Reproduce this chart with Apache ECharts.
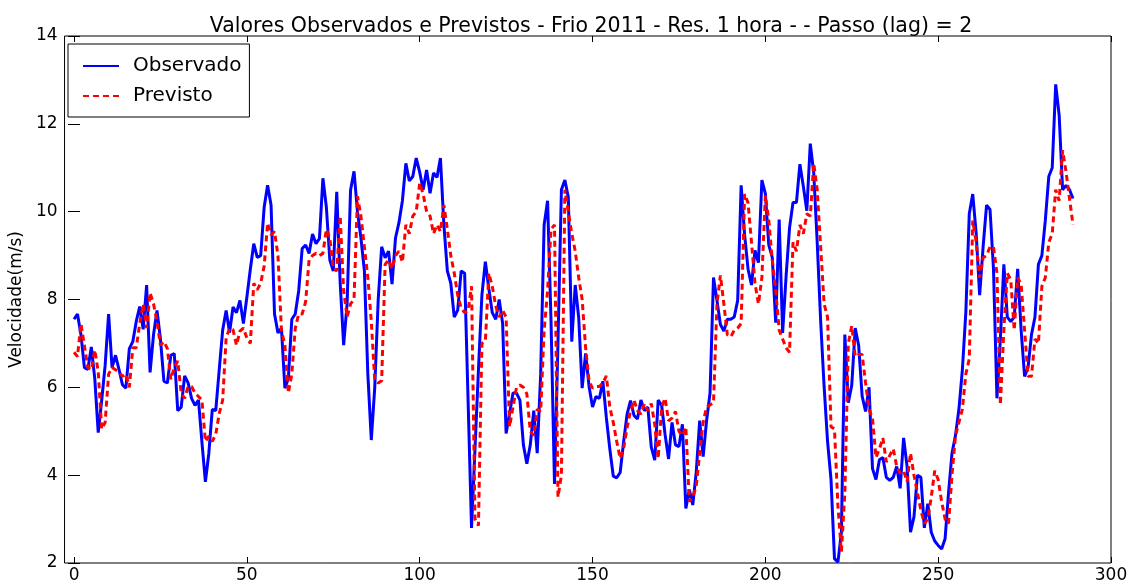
<!DOCTYPE html>
<html>
<head>
<meta charset="utf-8">
<script src="https://cdn.jsdelivr.net/npm/echarts@6/dist/echarts.min.js"></script>
<style>
html,body{margin:0;padding:0;background:#fff;}
#chart{width:1132px;height:584px;}
</style>
</head>
<body>
<div id="chart"></div>
<script>
const titleText = "Valores Observados e Previstos - Frio 2011 - Res. 1 hora - - Passo (lag) = 2";
const yAxisName = "Velocidade(m/s)";
const legendNames = ["Observado", "Previsto"];
const xTicks = [0, 50, 100, 150, 200, 250, 300];
const yTicks = [2, 4, 6, 8, 10, 12, 14];

const observado = [
7.55,7.67,7.2,6.45,6.41,6.92,6.2,4.97,5.7,6.5,
7.67,6.45,6.73,6.41,6.06,5.98,6.88,7.04,7.5,7.84,
7.32,8.33,6.34,7.2,7.75,7.1,6.14,6.1,6.73,6.77,
5.47,5.55,6.26,6.1,5.75,5.59,5.71,4.75,3.85,4.5,
5.5,5.47,6.4,7.3,7.75,7.25,7.83,7.7,7.98,7.45,
8.05,8.69,9.27,8.96,9.0,10.1,10.6,10.15,7.67,7.24,
7.35,5.98,6.2,7.55,7.67,8.2,9.16,9.24,9.05,9.49,
9.27,9.39,10.76,10.1,8.9,8.65,10.45,8.37,6.96,7.9,
10.49,10.92,10.0,9.4,8.65,6.3,4.8,6.0,8.0,9.2,
8.95,9.1,8.35,9.4,9.75,10.25,11.1,10.7,10.8,11.22,
10.9,10.5,10.95,10.42,10.88,10.78,11.22,9.7,8.65,8.37,
7.6,7.76,8.65,8.6,5.7,2.8,4.6,6.4,8.1,8.86,
8.25,7.7,7.55,8.0,7.45,4.95,5.4,5.87,5.87,5.71,
4.69,4.26,4.69,5.47,4.5,6.3,9.7,10.25,7.5,3.8,
7.0,10.5,10.72,10.33,7.04,8.33,7.59,5.98,6.77,6.02,
5.55,5.79,5.75,6.14,5.31,4.6,3.98,3.94,4.06,4.76,
5.39,5.7,5.36,5.28,5.71,5.47,5.55,4.64,4.34,5.71,
5.59,4.92,4.37,5.2,4.69,4.65,5.16,3.24,3.67,3.32,
4.06,5.24,4.42,5.24,5.87,8.5,7.98,7.43,7.28,7.55,
7.55,7.6,7.98,10.6,9.47,8.69,8.33,9.12,8.84,10.72,
10.41,9.24,8.96,7.47,9.82,7.24,8.53,9.63,10.21,10.21,
11.08,10.57,10.02,11.55,10.88,9.31,7.51,6.02,4.77,3.9,
2.1,2.02,2.7,7.2,5.65,6.05,7.35,6.95,5.8,5.45,
6.0,4.15,3.9,4.35,4.4,3.95,3.88,3.95,4.2,3.7,
4.85,4.2,2.7,3.05,4.0,3.95,2.8,3.35,2.7,2.5,
2.4,2.32,2.55,3.6,4.5,4.9,5.5,6.4,7.7,9.95,
10.4,9.5,8.1,9.2,10.15,10.05,8.7,5.75,7.1,8.8,
7.6,7.5,7.6,8.7,7.3,6.25,6.45,7.2,7.6,8.8,
9.0,9.8,10.8,11.0,12.9,12.2,10.5,10.6,10.5,10.3
];

const previsto = [
6.8,6.7,7.45,6.95,6.45,6.4,6.85,6.35,5.05,5.2,
6.3,6.45,6.4,6.35,6.25,6.3,6.0,6.9,6.9,7.45,
7.9,7.35,8.15,7.9,7.5,6.96,7.04,6.88,6.18,6.45,
6.6,5.87,5.75,6.02,6.02,5.87,5.79,5.71,4.77,4.89,
4.77,4.93,5.4,5.71,7.12,7.35,7.31,6.96,7.28,7.35,
7.12,7.0,8.37,8.22,8.37,8.76,9.74,9.47,9.55,9.0,
7.3,6.96,5.87,6.3,7.35,7.67,7.67,7.95,8.9,9.0,
9.05,9.0,9.05,9.6,9.4,8.7,8.65,9.9,8.2,7.6,
7.9,8.0,10.35,9.9,9.2,8.5,7.5,6.15,6.1,6.15,
8.8,8.9,8.7,9.0,9.1,8.85,9.7,9.5,9.9,10.0,
10.65,10.4,10.0,9.9,9.5,9.7,9.55,10.15,9.6,9.0,
8.6,8.1,7.8,7.7,7.75,8.3,3.0,2.85,7.0,7.05,
8.6,8.3,7.85,7.6,7.75,7.6,5.1,5.55,6.0,6.05,
6.0,5.85,5.0,4.9,5.5,5.45,7.3,8.2,9.6,9.7,
3.5,4.0,10.5,10.0,9.5,9.1,8.5,8.0,6.9,6.14,
5.98,6.02,6.02,6.1,6.26,5.55,5.2,4.77,4.38,4.61,
5.08,5.47,5.71,5.47,5.39,5.63,5.47,5.63,5.16,4.38,
5.55,5.75,5.24,5.3,5.45,5.0,4.9,5.1,3.4,3.5,
3.75,4.5,5.2,5.55,5.6,5.65,7.9,8.55,7.9,7.2,
7.15,7.3,7.35,7.45,10.4,10.2,9.3,8.37,7.9,8.5,
10.37,9.8,8.9,8.2,7.3,7.1,6.9,6.8,9.3,9.1,
9.7,9.5,9.95,9.9,11.1,10.5,9.2,7.9,7.6,5.1,
5.05,3.3,2.25,3.6,7.0,7.4,6.7,6.75,6.75,6.1,
5.5,5.3,4.4,4.6,4.85,4.3,4.45,4.6,4.2,4.05,
4.1,3.85,4.5,4.0,3.6,3.2,2.9,3.0,3.5,4.1,
3.9,3.4,3.0,2.9,4.0,4.9,5.2,5.5,6.3,6.65,
9.8,9.3,8.5,8.95,9.0,9.2,9.2,8.6,5.6,7.3,
8.6,8.45,7.3,8.5,8.35,7.3,6.25,6.25,7.1,7.0,
8.3,8.5,9.3,9.5,10.5,10.25,11.4,10.9,10.3,9.7
];

const FONT = "DejaVu Sans";
const chart = echarts.init(document.getElementById('chart'), null, {renderer: 'canvas'});
const toPairs = arr => arr.map((v, i) => [i, v]);

const xMin = -2.75, xMax = 300, yMin = 2, yMax = 14;
const tickStyle = {show: true, inside: true, length: 6, lineStyle: {color: '#000', width: 1}};

chart.setOption({
  animation: false,
  backgroundColor: '#fff',
  title: {
    text: titleText,
    left: 586, top: 11, textAlign: 'center',
    textStyle: {fontFamily: FONT, fontSize: 20.5, fontWeight: 'normal', color: '#000'}
  },
  legend: {
    data: legendNames,
    orient: 'vertical',
    left: 68, top: 44,
    padding: [12, 8, 11, 14],
    itemWidth: 36, itemHeight: 14, itemGap: 10,
    itemStyle: {opacity: 0},
    borderColor: '#000', borderWidth: 1, backgroundColor: '#fff',
    textStyle: {fontFamily: FONT, fontSize: 20, color: '#000', padding: [0, 0, 0, 9]}
  },
  grid: {left: 62, right: 21, top: 36, bottom: 19, show: true, borderColor: '#000', borderWidth: 1, backgroundColor: 'transparent'},
  xAxis: [{
    type: 'value', min: xMin, max: xMax, position: 'bottom',
    axisLine: {show: false},
    splitLine: {show: false},
    axisTick: Object.assign({customValues: xTicks}, tickStyle),
    axisLabel: {customValues: xTicks, fontFamily: FONT, fontSize: 17, color: '#000', margin: 4}
  }, {
    type: 'value', min: xMin, max: xMax, position: 'top',
    axisLine: {show: false}, splitLine: {show: false},
    axisTick: Object.assign({customValues: xTicks}, tickStyle),
    axisLabel: {show: false}
  }],
  yAxis: [{
    type: 'value', min: yMin, max: yMax, interval: 2, position: 'left',
    name: yAxisName, nameLocation: 'middle', nameGap: 36,
    nameTextStyle: {fontFamily: FONT, fontSize: 17, color: '#000'},
    axisLine: {show: false}, splitLine: {show: false},
    axisTick: tickStyle,
    axisLabel: {fontFamily: FONT, fontSize: 17, color: '#000', margin: 7}
  }, {
    type: 'value', min: yMin, max: yMax, interval: 2, position: 'right',
    axisLine: {show: false}, splitLine: {show: false},
    axisTick: tickStyle,
    axisLabel: {show: false}
  }],
  series: [{
    name: legendNames[0], type: 'line', data: toPairs(observado),
    showSymbol: false, symbol: 'none',
    lineStyle: {color: '#0000ff', width: 3},
    itemStyle: {color: '#0000ff'},
    z: 2
  }, {
    name: legendNames[1], type: 'line', data: toPairs(previsto),
    showSymbol: false, symbol: 'none',
    lineStyle: {color: '#ff0000', width: 3, type: [6, 4]},
    itemStyle: {color: '#ff0000'},
    z: 3
  }]
});
</script>
</body>
</html>
